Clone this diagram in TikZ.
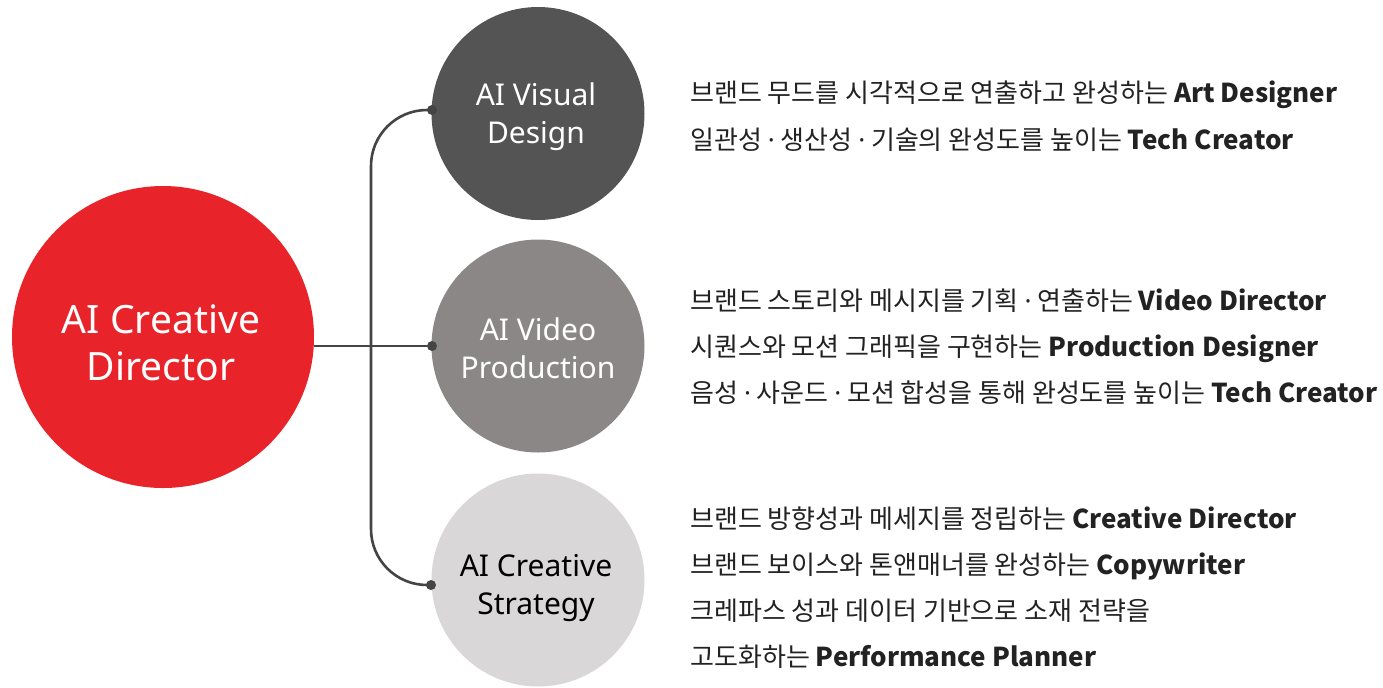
\documentclass[tikz,border=0pt]{standalone}
\usepackage{fontspec}
\setmainfont{Noto Sans}
\newfontfamily\krfont{Noto Sans CJK KR}
\newcommand{\mdot}{{\rmfamily\fontsize{13}{15}\selectfont\textperiodcentered}}
\definecolor{cred}{HTML}{E8232A}
\definecolor{cdark}{HTML}{545454}
\definecolor{cmid}{HTML}{8A8786}
\definecolor{clight}{HTML}{D9D7D8}
\definecolor{cline}{HTML}{444444}
\definecolor{ctext}{HTML}{222222}
\tikzset{
  bigcirc/.style={circle, fill=cred, minimum size=302*0.5pt, inner sep=0pt},
  subcirc/.style={circle, minimum size=213*0.5pt, inner sep=0pt},
  bigtext/.style={align=center, inner sep=0pt, text=white, font=\fontsize{19.5}{23.5}\selectfont},
  subtext/.style={align=center, inner sep=0pt, font=\fontsize{15}{19}\selectfont},
  dotnode/.style={circle, fill=cline, minimum size=10*0.5pt, inner sep=0pt},
  conn/.style={draw=cline, line width=1.3pt},
  desc/.style={anchor=base west, inner sep=0pt, text=ctext, font=\krfont\fontsize{13}{15}\selectfont},
}
\begin{document}
\begin{tikzpicture}[x=0.5pt, y=-0.5pt]
\useasboundingbox (0,0) rectangle (1383,687);
\node[bigcirc] (main) at (163,337) {};
\node[subcirc, fill=cdark] (c1) at (538,113.5) {};
\node[subcirc, fill=cmid] (c2) at (538,346) {};
\node[subcirc, fill=clight] (c3) at (538,580) {};
\node[bigtext] (mainlbl) at (161,343) {AI Creative\\Director};
\node[subtext, text=white] (l1) at (536,117) {AI Visual\\Design};
\node[subtext, text=white] (l2) at (538,348) {AI Video\\Production};
\node[subtext, text=black] (l3) at (536,588) {AI Creative\\Strategy};
\node[dotnode] (d1) at (432,110) {};
\node[dotnode] (d2) at (432,346) {};
\node[dotnode] (d3) at (431,585) {};
\coordinate (junc) at (371,346);
\draw[conn] (main.east |- d2) -- (d2);
\draw[conn, rounded corners=28pt] (d1.center) -| (junc) |- (d3.center);
\node[desc] (t11) at (690,102) {브랜드 무드를 시각적으로 연출하고 완성하는 \textbf{Art Designer}};
\node[desc] (t12) at (690,149) {일관성 \mdot{} 생산성 \mdot{} 기술의 완성도를 높이는 \textbf{Tech Creator}};
\node[desc] (t21) at (690,310) {브랜드 스토리와 메시지를 기획 \mdot{} 연출하는 \textbf{Video Director}};
\node[desc] (t22) at (690,356) {시퀀스와 모션 그래픽을 구현하는 \textbf{Production Designer}};
\node[desc] (t23) at (690,402) {음성 \mdot{} 사운드 \mdot{} 모션 합성을 통해 완성도를 높이는 \textbf{Tech Creator}};
\node[desc] (t31) at (690,528) {브랜드 방향성과 메세지를 정립하는 \textbf{Creative Director}};
\node[desc] (t32) at (690,574) {브랜드 보이스와 톤앤매너를 완성하는 \textbf{Copywriter}};
\node[desc] (t33) at (690,620) {크레파스 성과 데이터 기반으로 소재 전략을};
\node[desc] (t34) at (690,666) {고도화하는 \textbf{Performance Planner}};
\end{tikzpicture}
\end{document}
